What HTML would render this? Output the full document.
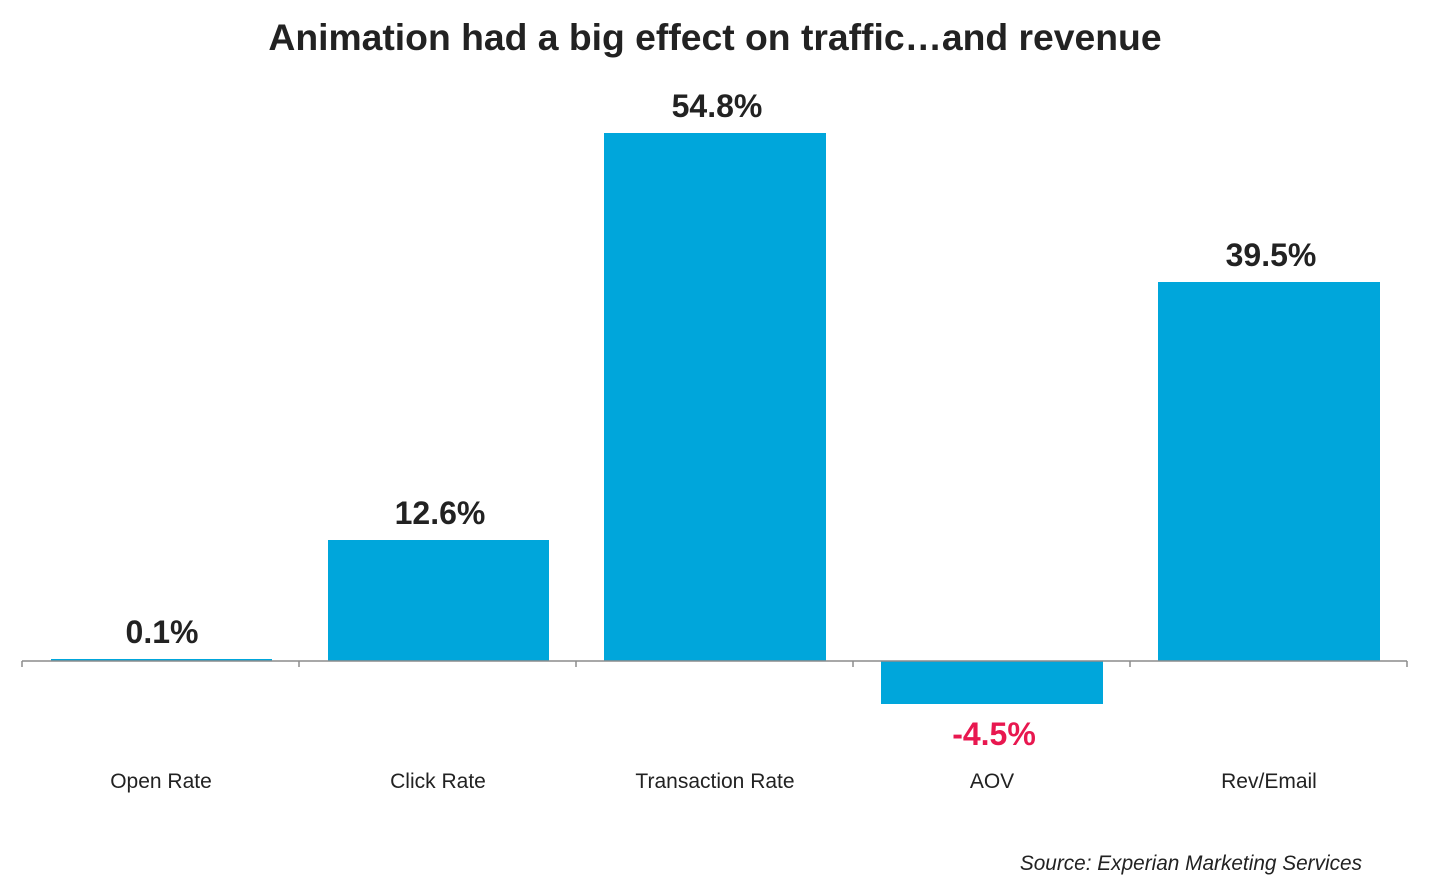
<!DOCTYPE html>
<html><head><style>
body{margin:0;width:1430px;height:887px;background:#fff;font-family:"Liberation Sans",Arial,sans-serif;overflow:hidden}
</style></head><body>
<svg width="1430" height="887" xmlns="http://www.w3.org/2000/svg" font-family="Liberation Sans, Arial, sans-serif">
<text x="715" y="50" text-anchor="middle" font-size="37.3" font-weight="bold" fill="#222">Animation had a big effect on traffic…and revenue</text>
<g fill="#00a6db">
<rect x="51" y="659" width="221" height="2"/>
<rect x="328" y="540" width="221" height="121"/>
<rect x="604" y="133" width="222" height="528"/>
<rect x="881" y="661" width="222" height="43"/>
<rect x="1158" y="282" width="222" height="379"/>
</g>
<g stroke="#8c8c8c" stroke-width="1.5">
<line x1="22" y1="661" x2="1407" y2="661"/>
<line x1="22" y1="661" x2="22" y2="667"/>
<line x1="299" y1="661" x2="299" y2="667"/>
<line x1="576" y1="661" x2="576" y2="667"/>
<line x1="853" y1="661" x2="853" y2="667"/>
<line x1="1130" y1="661" x2="1130" y2="667"/>
<line x1="1407" y1="661" x2="1407" y2="667"/>
</g>
<g font-size="32" font-weight="bold" fill="#222" text-anchor="middle">
<text x="162" y="643">0.1%</text>
<text x="440" y="524">12.6%</text>
<text x="717" y="117">54.8%</text>
<text x="994" y="745" fill="#e8174f">-4.5%</text>
<text x="1271" y="266">39.5%</text>
</g>
<g font-size="21" fill="#222" text-anchor="middle">
<text x="161" y="788">Open Rate</text>
<text x="438" y="788">Click Rate</text>
<text x="715" y="788">Transaction Rate</text>
<text x="992" y="788">AOV</text>
<text x="1269" y="788">Rev/Email</text>
</g>
<text x="1362" y="870" text-anchor="end" font-size="20.8" font-style="italic" fill="#222">Source: Experian Marketing Services</text>
</svg>
</body></html>
